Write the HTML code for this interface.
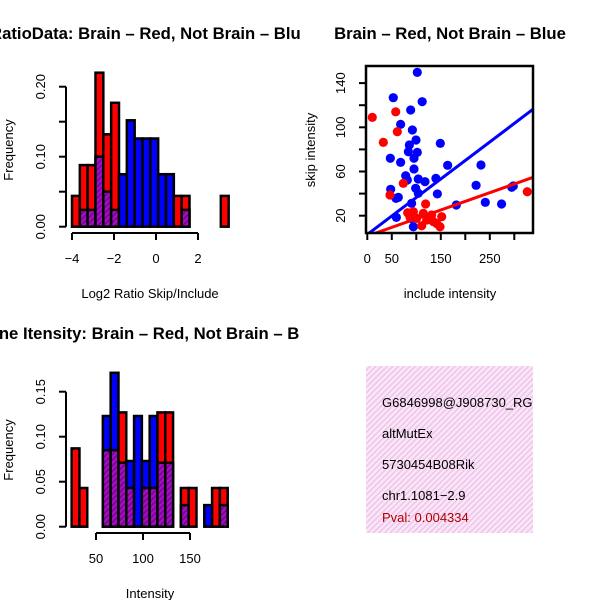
<!DOCTYPE html>
<html><head><meta charset="utf-8"><style>
html,body{margin:0;padding:0;background:#fff}
svg{display:block;font-family:"Liberation Sans",sans-serif}
</style></head><body>
<svg id="c" width="600" height="600" xmlns="http://www.w3.org/2000/svg">
<defs>
<pattern id="hatch" width="4" height="4" patternUnits="userSpaceOnUse" patternTransform="rotate(45)">
<rect width="4" height="4" fill="#a010c0"/><rect width="1.5" height="4" fill="#7a0090"/></pattern>
<pattern id="pink" width="4" height="4" patternUnits="userSpaceOnUse" patternTransform="rotate(45)">
<rect width="4" height="4" fill="#fbe6f8"/><rect width="1.5" height="4" fill="#eec4ea"/></pattern>
<clipPath id="boxclip"><rect x="366" y="366" width="167" height="167"/></clipPath>
<clipPath id="leftclip"><rect x="0" y="0" width="300" height="600"/></clipPath>
</defs>
</svg>
<script>
// ---- Top-left histogram data (Log2 ratio) ----
const h1Start = -4.0;
const h1Width = 0.373;
const h1Red  = [0.044,0.088,0.088,0.22,0.132,0.177,0,0,0,0,0,0,0,0.044,0.044,0,0,0,0,0.044];
const h1Blue = [0,0.024,0.024,0.10,0.05,0.024,0.075,0.152,0.126,0.126,0.126,0.075,0.075,0,0.024,0,0,0,0,0];
const h1XTicks = [-4,-2,0,2];
const h1YTicks = [0,0.05,0.10,0.15,0.20];
const h1YLabels = ["0.00","","0.10","","0.20"];
// ---- Bottom-left histogram data (Intensity) ----
const h2Start = 24.1;
const h2Width = 8.3;
const h2Red  = [0.087,0.043,0,0,0.085,0.085,0.127,0.043,0,0.043,0.043,0.127,0.127,0,0.043,0.043,0,0,0.043,0.043];
const h2Blue = [0,0,0,0,0.123,0.171,0.071,0.073,0.123,0.073,0.123,0.071,0.071,0,0.024,0,0,0.024,0,0.024];
const h2XTicks = [50,100,150];
const h2YTicks = [0,0.05,0.10,0.15];
const h2YLabels = ["0.00","0.05","0.10","0.15"];
// ---- Scatter data ----
const blueX = [102,53,112,88.5,68,92,99.4,85.8,149,83.8,102,95.3,47,68,164,95.3,232,78.3,81.7,104,117.7,140,222,47.7,98.7,104,143,63.3,58.6,90.5,181.6,240.8,274,294.7,298,59.3,88.5,94];
const blueY = [149.7,126.8,123.2,115.7,102.7,97.6,88.5,84,85.5,77.9,77.3,72,72,68.3,65.6,62.3,65.9,56.2,52.3,53.2,50.8,53.8,47.5,43.9,44.8,40.3,39.7,36.6,35.7,31.2,29.7,32.1,30.6,45.7,46.9,18.5,17.6,10];
const redX = [10.2,58,61.3,32.7,73.5,46.3,326.5,119,94,82.4,114.3,131.3,151.8,100.7,121,141.6,111,148.4,134.7,87];
const redY = [109,114,96,86.4,49.3,38.7,41.7,30.6,23.6,22.7,22.1,20.6,19.1,17.6,16.1,13,10.9,10,14.6,19.1];
const fitIntercept = [3.0, 1.6];   // blue, red
const fitSlope = [0.335, 0.157];
const scXTicks = [0,50,100,150,200,250,300];
const scXLabels = ["0","50","","150","","250",""];
const scYTicks = [20,40,60,80,100,120,140];
const scYLabels = ["20","","60","","100","","140"];

const svg = document.getElementById('c');
const NS = 'http://www.w3.org/2000/svg';
function mk(tag, attrs, parent){const e=document.createElementNS(NS,tag);for(const k in attrs)e.setAttribute(k,attrs[k]);(parent||svg).appendChild(e);return e;}
function txt(x,y,s,attrs){const t=mk('text',Object.assign({x:x,y:y},attrs||{}));t.textContent=s;return t;}

const TF=16.7, LF=13;
let t;
t=txt(150,39,"RatioData: Brain \u2013 Red, Not Brain \u2013 Blue",{'font-size':TF,'font-weight':'bold','text-anchor':'middle','clip-path':'url(#leftclip)'});


t=txt(450,39,"Brain \u2013 Red, Not Brain \u2013 Blue",{'font-size':TF,'font-weight':'bold','text-anchor':'middle'});


t=txt(150,339,"Gene Itensity: Brain \u2013 Red, Not Brain \u2013 Blue",{'font-size':TF,'font-weight':'bold','text-anchor':'middle','clip-path':'url(#leftclip)'});



function hist(start,width,red,blue,xpx,ypx,name){
  const g=mk('g',{});
  
  
  for(let i=0;i<red.length;i++){
    const x0=xpx(start+i*width), x1=xpx(start+(i+1)*width);
    const r=red[i], b=blue[i], mx=Math.max(r,b), mn=Math.min(r,b);
    if(mx>0){
      const rc=mk('rect',{x:x0,y:ypx(mx),width:x1-x0,height:ypx(0)-ypx(mx),fill:r>=b?'#ff0000':'#0000ff',stroke:'#000','stroke-width':2.5},g);
      
      
    }
    if(mn>0){
      const pc=mk('rect',{x:x0,y:ypx(mn),width:x1-x0,height:ypx(0)-ypx(mn),fill:'url(#hatch)',stroke:'#000','stroke-width':2.5},g);
      
      
    }
  }
}
function axes(xTicks,xLabels,yTicks,yLabels,xpx,ypx,axisY,axisX,name){
  const g=mk('g',{stroke:'#000','stroke-width':2,fill:'none'});
  
  
  mk('line',{x1:xpx(xTicks[0]),x2:xpx(xTicks[xTicks.length-1]),y1:axisY,y2:axisY},g);
  xTicks.forEach((v,i)=>{mk('line',{x1:xpx(v),x2:xpx(v),y1:axisY,y2:axisY+7},g);
    if(xLabels[i]!==""){const l=txt(xpx(v),axisY+30,xLabels[i],{'font-size':LF,'text-anchor':'middle'});
    
    }});
  mk('line',{x1:axisX,x2:axisX,y1:ypx(yTicks[0]),y2:ypx(yTicks[yTicks.length-1])},g);
  yTicks.forEach((v,i)=>{mk('line',{x1:axisX-7,x2:axisX,y1:ypx(v),y2:ypx(v)},g);
    if(yLabels[i]!==""){const lx=axisX-21;const l=txt(lx,ypx(v),yLabels[i],{'font-size':LF,'text-anchor':'middle',transform:`rotate(-90 ${lx} ${ypx(v)})`});
    
    }});
}

// top-left
const x1 = v=>72+(v+4)*21, y1 = v=>226.7-v*700;
hist(h1Start,h1Width,h1Red,h1Blue,x1,y1,'ratio-histogram');
axes(h1XTicks,h1XTicks.map(String).map(s=>s.replace('-','\u2212')),h1YTicks,h1YLabels,x1,y1,233,66,'ratio-histogram');
t=txt(150,298,"Log2 Ratio Skip/Include",{'font-size':LF,'text-anchor':'middle'});


t=txt(13,150,"Frequency",{'font-size':LF,'text-anchor':'middle',transform:'rotate(-90 13 150)'});



// bottom-left
const x2 = v=>96+(v-50)*0.94, y2 = v=>526.7-v*900;
hist(h2Start,h2Width,h2Red,h2Blue,x2,y2,'intensity-histogram');
axes(h2XTicks,h2XTicks.map(String),h2YTicks,h2YLabels,x2,y2,533,66,'intensity-histogram');
t=txt(150,598,"Intensity",{'font-size':LF,'text-anchor':'middle'});


t=txt(13,450,"Frequency",{'font-size':LF,'text-anchor':'middle',transform:'rotate(-90 13 450)'});



// scatter
const sx = v=>367.3+v*0.49, sy = v=>215.7-(v-20)*1.105;
const sc=mk('clipPath',{id:'scclip'});mk('rect',{x:366,y:66,width:167,height:167},sc);
const pts=mk('g',{'clip-path':'url(#scclip)'});


blueX.forEach((v,i)=>{const c=mk('circle',{cx:sx(v),cy:sy(blueY[i]),r:4.6,fill:'#0000ff'},pts);
  
  });
redX.forEach((v,i)=>{const c=mk('circle',{cx:sx(v),cy:sy(redY[i]),r:4.6,fill:'#ff0000'},pts);
  
  });
['#0000ff','#ff0000'].forEach((col,k)=>{const xa=-5,xb=345;
  const l=mk('line',{x1:sx(xa),y1:sy(fitIntercept[k]+fitSlope[k]*xa),x2:sx(xb),y2:sy(fitIntercept[k]+fitSlope[k]*xb),stroke:col,'stroke-width':3},pts);
  
  });
const fr=mk('rect',{x:366,y:66,width:167,height:167,fill:'none',stroke:'#000','stroke-width':2.5});


const sg=mk('g',{stroke:'#000','stroke-width':2});


scXTicks.forEach((v,i)=>{mk('line',{x1:sx(v),x2:sx(v),y1:233,y2:240},sg);
  if(scXLabels[i]){const l=txt(sx(v),263,scXLabels[i],{'font-size':LF,'text-anchor':'middle'});
  
  }});
scYTicks.forEach((v,i)=>{mk('line',{x1:359,x2:366,y1:sy(v),y2:sy(v)},sg);
  if(scYLabels[i]){const l=txt(345,sy(v),scYLabels[i],{'font-size':LF,'text-anchor':'middle',transform:`rotate(-90 345 ${sy(v)})`});
  
  }});
t=txt(450,298,"include intensity",{'font-size':LF,'text-anchor':'middle'});


t=txt(315,150,"skip intensity",{'font-size':LF,'text-anchor':'middle',transform:'rotate(-90 315 150)'});



// info box
const ib=mk('g',{'clip-path':'url(#boxclip)'});


mk('rect',{x:366,y:366,width:167,height:167,fill:'url(#pink)'},ib);
const lines=[["G6846998@J908730_RG",407,'#000'],["altMutEx",438,'#000'],["5730454B08Rik",469,'#000'],["chr1.1081\u22122.9",500,'#000'],["Pval: 0.004334",522,'#b00000']];
lines.forEach(L=>{const e=txt(382,L[1],L[0],{'font-size':13,fill:L[2]});ib.appendChild(e);
  
  });
</script>
</body></html>
